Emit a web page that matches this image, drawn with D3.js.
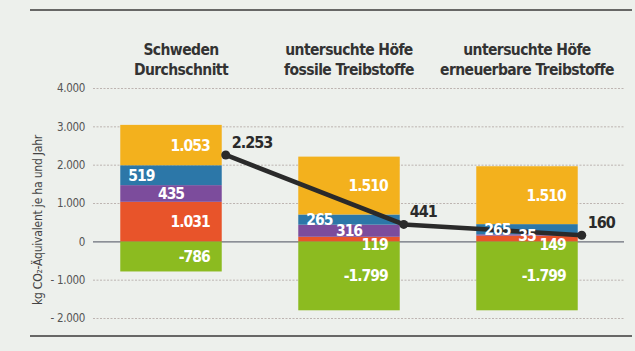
<!DOCTYPE html>
<html>
<head>
<meta charset="utf-8">
<script src="https://cdn.jsdelivr.net/npm/d3@7"></script>
<style>
  body { margin: 0; background: #edf0ec; }
  svg { display: block; }
  text { font-family: "DejaVu Sans Condensed", "Liberation Sans Narrow", sans-serif; }
</style>
</head>
<body>
<div id="chart"></div>
<script>
// Daten
var categories = ["Schweden Durchschnitt", "untersuchte Höfe fossile Treibstoffe", "untersuchte Höfe erneuerbare Treibstoffe"];
var titleLines = [["Schweden", "Durchschnitt"], ["untersuchte Höfe", "fossile Treibstoffe"], ["untersuchte Höfe", "erneuerbare Treibstoffe"]];
var green = [-786, -1799, -1799];
var red = [1031, 119, 149];
var purple = [435, 316, 35];
var blue = [519, 265, 265];
var yellow = [1053, 1510, 1510];
var net = [2253, 441, 160];
var yTicks = [-2000, -1000, 0, 1000, 2000, 3000, 4000];
var yTitle = "kg CO₂-Äquivalent je ha und Jahr";

// variables
var w = 635;
var h = 351;
var colors = { green: "#8cbb20", red: "#e8542a", purple: "#7c4c9c", blue: "#2c77a8", yellow: "#f3b11d" };

var de = d3.formatLocale({ decimal: ",", thousands: ".", grouping: [3], currency: ["", "€"], minus: "-" });
var fmt = de.format(",d");
var tickFmt = function(d) { return d < 0 ? "- " + fmt(-d) : fmt(d); };

var svg = d3.select("#chart").append("svg").attr("width", w).attr("height", h);

var x = d3.scaleBand().domain(categories).range([82, 616]).paddingInner(0.43).paddingOuter(0.215);
var y = d3.scaleLinear().domain([-2000, 4000]).range([318, 88]);

// rules top / bottom
svg.append("line").attr("x1", 30).attr("x2", 632).attr("y1", 10).attr("y2", 10)
  .attr("stroke", "#3a3a3a").attr("stroke-width", 1.5);
svg.append("line").attr("x1", 30).attr("x2", 632).attr("y1", 336).attr("y2", 336)
  .attr("stroke", "#3a3a3a").attr("stroke-width", 1.5);

// grid + y axis
var yAxis = d3.axisLeft(y).tickValues(yTicks).tickFormat(tickFmt).tickSize(-(624 - 93)).tickPadding(8);
var gy = svg.append("g").attr("transform", "translate(93,0)").call(yAxis);
gy.select(".domain").remove();
gy.selectAll(".tick line")
  .attr("stroke", function(d) { return d === 0 ? "#6b6f7a" : "#b0a4a2"; })
  .attr("stroke-width", function(d) { return d === 0 ? 1.2 : 0.8; })
  .attr("stroke-dasharray", function(d) { return d === 0 ? null : "2,1.5"; });
gy.selectAll(".tick text").attr("fill", "#555").style("font-size", "11.5px")
  .attr("font-family", "DejaVu Sans Condensed, sans-serif")
  .style("letter-spacing", "-0.3px");

svg.append("text")
  .attr("transform", "translate(42,220) rotate(-90)")
  .attr("text-anchor", "middle")
  .attr("fill", "#444")
  .style("font-size", "12px")
  .style("letter-spacing", "-0.2px")
  .text(yTitle);

// column titles
categories.forEach(function(c, i) {
  var t = svg.append("text")
    .attr("x", x(c) + x.bandwidth() / 2 + (i === 0 ? 10 : 0))
    .attr("y", 55)
    .attr("text-anchor", "middle")
    .attr("fill", "#333")
    .style("font-size", "15.5px")
    .style("font-weight", "bold")
    .style("letter-spacing", "-0.6px");
  titleLines[i].forEach(function(l, j) {
    t.append("tspan").attr("x", t.attr("x")).attr("dy", j === 0 ? 0 : 20).text(l);
  });
});

// stacked segments
var layers = [
  { key: "green", vals: green, align: "end" },
  { key: "red", vals: red, align: "end" },
  { key: "purple", vals: purple, align: "middle" },
  { key: "blue", vals: blue, align: "start" },
  { key: "yellow", vals: yellow, align: "end" }
];

var segs = [];
categories.forEach(function(c, i) {
  var base = 0;
  layers.forEach(function(L) {
    var v = L.vals[i];
    var y0, y1;
    if (v < 0) { y0 = v; y1 = 0; }
    else { y0 = base; y1 = base + v; base = y1; }
    segs.push({ cat: c, key: L.key, value: v, y0: y0, y1: y1, align: L.align });
  });
});

svg.append("g").selectAll("rect")
  .data(segs)
  .enter()
  .append("rect")
  .attr("x", function(d) { return x(d.cat); })
  .attr("width", x.bandwidth())
  .attr("y", function(d) { return y(d.y1); })
  .attr("height", function(d) { return y(d.y0) - y(d.y1); })
  .attr("fill", function(d) { return colors[d.key]; });

// net line
var linePts = categories.map(function(c, i) { return [x(c) + x.bandwidth() + 4, y(net[i])]; });
svg.append("path")
  .attr("d", d3.line()(linePts))
  .attr("fill", "none")
  .attr("stroke", "#2a2a2a")
  .attr("stroke-width", 4.5);
svg.selectAll("circle.net")
  .data(linePts)
  .enter()
  .append("circle")
  .attr("cx", function(d) { return d[0]; })
  .attr("cy", function(d) { return d[1]; })
  .attr("r", 4.5)
  .attr("fill", "#2a2a2a");
svg.selectAll("text.net")
  .data(linePts)
  .enter()
  .append("text")
  .attr("x", function(d) { return d[0] + 6; })
  .attr("y", function(d) { return d[1] - 7; })
  .attr("fill", "#2a2a2a")
  .style("font-size", "16px")
  .style("font-weight", "bold")
  .style("letter-spacing", "-1px")
  .text(function(d, i) { return fmt(net[i]); });

// segment labels
svg.append("g").selectAll("text")
  .data(segs)
  .enter()
  .append("text")
  .attr("x", function(d) {
    if (d.align === "start") return x(d.cat) + 8;
    if (d.align === "middle") return x(d.cat) + x.bandwidth() / 2;
    return x(d.cat) + x.bandwidth() - 12;
  })
  .attr("y", function(d) {
    var cy = (y(d.y0) + y(d.y1)) / 2;
    if (d.key === "red" && y(d.y0) - y(d.y1) < 14) cy = y(0) + 3;
    return cy;
  })
  .attr("dy", "0.36em")
  .attr("text-anchor", function(d) { return d.align; })
  .attr("fill", "#fff")
  .style("font-size", "15.5px")
  .style("font-weight", "bold")
  .style("letter-spacing", "-1px")
  .text(function(d) { return fmt(d.value); });
</script>
</body>
</html>
